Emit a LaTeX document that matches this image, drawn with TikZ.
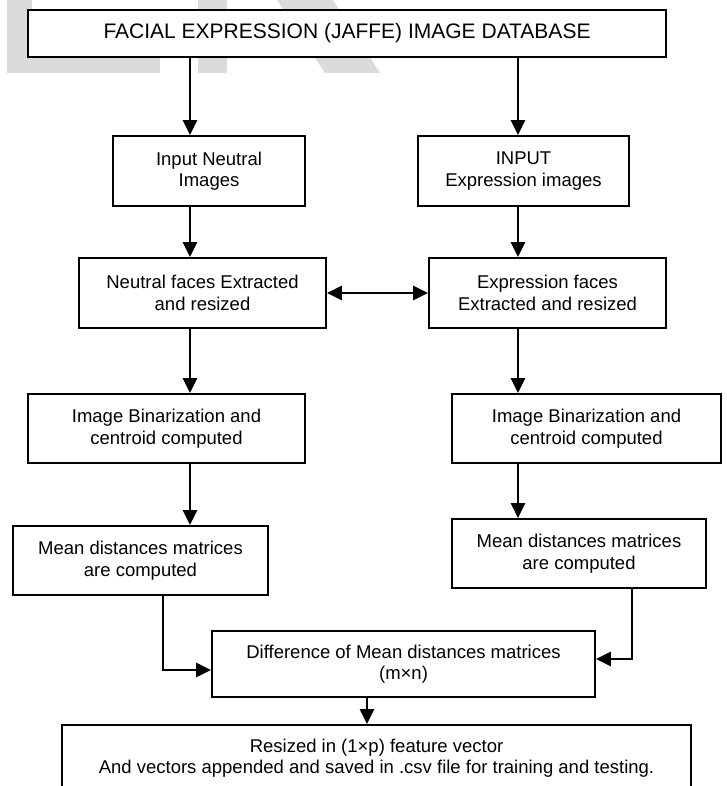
\documentclass[tikz,border=0pt]{standalone}
\usepackage{fontspec}
\setmainfont{Liberation Sans}
\usetikzlibrary{arrows.meta}

\begin{document}
\begin{tikzpicture}[
    x=1pt,
    y=-1pt,
    stepbox/.style={
        draw=black,
        line width=1.8pt,
        fill=white,
        inner sep=0pt,
        align=center,
        font=\fontsize{18.5}{21.5}\selectfont
    },
    flow/.style={
        -{Triangle[length=15pt,width=14pt]},
        line width=2.5pt
    },
    swap/.style={
        {Triangle[length=15pt,width=14pt]}-{Triangle[length=15pt,width=14pt]},
        line width=2.5pt
    },
    watermark/.style={
        fill=black!14,
        draw=none
    }
]

    \useasboundingbox (0,0) rectangle (726,786);
    \clip (0,0) rectangle (726,786);

    % ==========================================
    % BACKGROUND MARK
    % ==========================================
    \fill[watermark] (7,0) rectangle (32,73);
    \fill[watermark] (7,50) rectangle (160,73);
    \fill[watermark] (198,0) rectangle (227,73);
    \fill[watermark] (277,0) -- (333,0) -- (380,73) -- (325,73) -- cycle;

    % ==========================================
    % NODES PLACEMENT
    % ==========================================

    % Database (Top)
    \node[stepbox, font=\fontsize{21}{24}\selectfont, minimum width=638pt, minimum height=47pt] (Database) at (347,33.5) {FACIAL EXPRESSION (JAFFE) IMAGE DATABASE};

    % Inputs
    \node[stepbox, minimum width=192pt, minimum height=70pt] (NeutralIn) at (209,171) {Input Neutral\\Images};
    \node[stepbox, minimum width=211pt, minimum height=70pt] (ExprIn) at (523.5,171) {INPUT\\Expression images};

    % Extraction
    \node[stepbox, minimum width=247pt, minimum height=70pt] (NeutralExt) at (202.5,293) {Neutral faces Extracted\\and resized};
    \node[stepbox, minimum width=237pt, minimum height=70pt] (ExprExt) at (547.5,293) {Expression faces\\Extracted and resized};

    % Binarization
    \node[stepbox, minimum width=277pt, minimum height=69pt] (NeutralBin) at (166.5,428.5) {Image Binarization and\\centroid computed};
    \node[stepbox, minimum width=269pt, minimum height=69pt] (ExprBin) at (586.5,428.5) {Image Binarization and\\centroid computed};

    % Mean distances
    \node[stepbox, minimum width=255pt, minimum height=69pt] (NeutralMean) at (140.5,560.5) {Mean distances matrices\\are computed};
    \node[stepbox, minimum width=254pt, minimum height=69pt] (ExprMean) at (579,553.5) {Mean distances matrices\\are computed};

    % Difference and feature vector
    \node[stepbox, minimum width=383pt, minimum height=66pt] (DiffMean) at (403.5,664) {Difference of Mean distances matrices\\(m×n)};
    \node[stepbox, minimum width=629pt, minimum height=66pt] (FeatVec) at (376.5,758) {Resized in (1×p) feature vector\\And vectors appended and saved in .csv file for training and testing.};

    % Columns and bends
    \coordinate (ColL) at (190,0);
    \coordinate (ColR) at (518,0);
    \coordinate (ColD) at (367,0);
    \coordinate (JoinL) at (163,670);
    \coordinate (JoinR) at (632,659);

    % ==========================================
    % CONNECTIONS
    % ==========================================

    % Neutral branch
    \draw[flow] (Database.south -| ColL) -- (NeutralIn.north -| ColL);
    \draw[flow] (NeutralIn.south -| ColL) -- (NeutralExt.north -| ColL);
    \draw[flow] (NeutralExt.south -| ColL) -- (NeutralBin.north -| ColL);
    \draw[flow] (NeutralBin.south -| ColL) -- (NeutralMean.north -| ColL);

    % Expression branch
    \draw[flow] (Database.south -| ColR) -- (ExprIn.north -| ColR);
    \draw[flow] (ExprIn.south -| ColR) -- (ExprExt.north -| ColR);
    \draw[flow] (ExprExt.south -| ColR) -- (ExprBin.north -| ColR);
    \draw[flow] (ExprBin.south -| ColR) -- (ExprMean.north -| ColR);

    % Between the extracted faces
    \draw[swap] (NeutralExt) -- (ExprExt);

    % Into the difference
    \draw[flow] (NeutralMean.south -| JoinL) |- (DiffMean.west |- JoinL);
    \draw[flow] (ExprMean.south -| JoinR) |- (DiffMean.east |- JoinR);

    % Feature vector
    \draw[flow] (DiffMean.south -| ColD) -- (FeatVec.north -| ColD);

\end{tikzpicture}
\end{document}
